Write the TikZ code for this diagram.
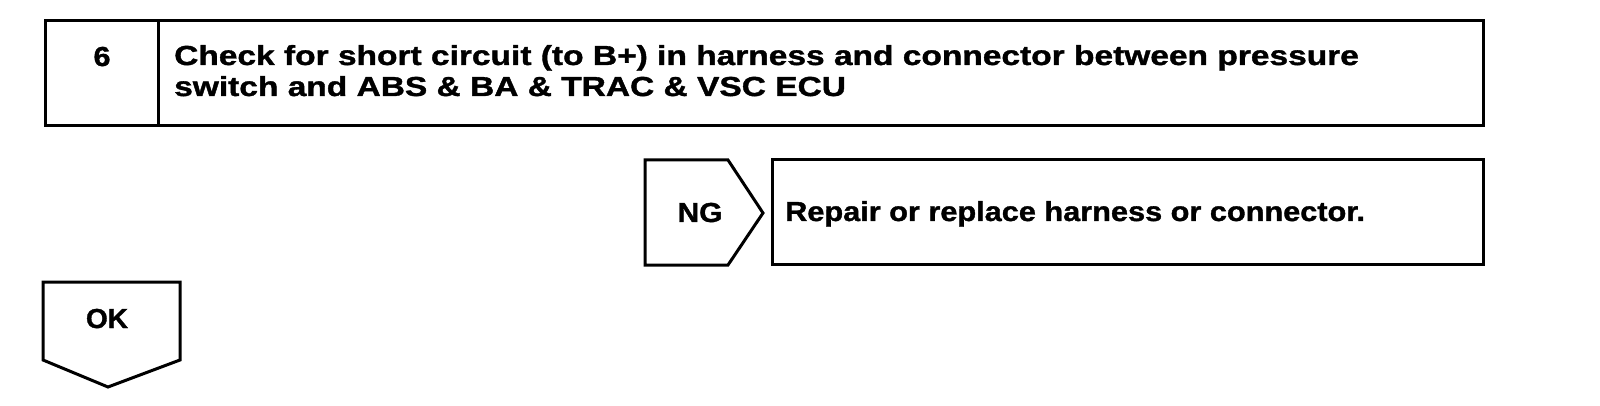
\documentclass[tikz,border=0pt]{standalone}
\usepackage{fontspec}
\setmainfont{Liberation Sans}[BoldFeatures={FakeBold=1.2}]
\begin{document}
\begin{tikzpicture}[x=1pt,y=-1pt,
  lw/.style={line width=3pt, line join=miter},
  box/.style={draw, lw, rectangle, inner sep=0pt, outer sep=0pt, anchor=north west},
  lbl/.style={font=\bfseries\fontsize{27.5}{30}\selectfont, inner sep=0pt}]
\useasboundingbox (0,0) rectangle (1600,406);
% step box
\node[box, minimum width=1438pt, minimum height=105pt] (stepbox) at (45,21) {};
\node[box, minimum width=113pt, minimum height=105pt] (numbox) at (45,21) {};
\node[lbl, anchor=base] (num) at (102,66) {\scalebox{1.11}[1]{6}};
\node[lbl, anchor=base west] (title1) at (174,65)
  {\scalebox{1.218}[1]{Check for short circuit (to B+) in harness and connector between pressure}};
\node[lbl, anchor=base west] (title2) at (174,96)
  {\scalebox{1.218}[1]{switch and ABS \& BA \& TRAC \& VSC ECU}};
% NG chevron
\coordinate (ng1) at (645,160);
\coordinate (ng2) at (728,160);
\coordinate (ng3) at (763,213);
\coordinate (ng4) at (728,265);
\coordinate (ng5) at (645,265);
\draw[lw] (ng1) -- (ng2) -- (ng3) -- (ng4) -- (ng5) -- cycle;
\node[lbl, anchor=base] (ng) at (700,222) {\scalebox{1.09}[1]{NG}};
% repair box
\node[box, minimum width=711pt, minimum height=104pt] (repair) at (772,160) {};
\node[lbl, anchor=base west] (repairtxt) at (785,221) {\scalebox{1.116}[1]{Repair or replace harness or connector.}};
% OK chevron
\coordinate (ok1) at (43,282);
\coordinate (ok2) at (180,282);
\coordinate (ok3) at (180,360);
\coordinate (ok4) at (108,387);
\coordinate (ok5) at (43,360);
\draw[lw] (ok1) -- (ok2) -- (ok3) -- (ok4) -- (ok5) -- cycle;
\node[lbl, anchor=base] (ok) at (107,328) {\scalebox{1.02}[1]{OK}};
\end{tikzpicture}
\end{document}
